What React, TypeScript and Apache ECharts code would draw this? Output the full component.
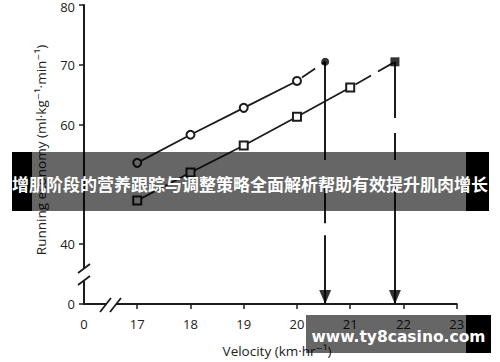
import React, { useEffect, useRef } from "react";
import * as echarts from "echarts";

// ---- data ----
const circleVelocity = [17, 18, 19, 20];
const circleEconomy = [53.6, 58.3, 62.8, 67.3];
const circlePeak = [20.53, 70.5];

const squareVelocity = [17, 18, 19, 20, 21];
const squareEconomy = [47.3, 52.0, 56.5, 61.3, 66.2];
const squarePeak = [21.84, 70.5];

// visible pieces of the two broken vertical arrows (economy values)
const circleDropSegments = [
  [70.5, 54.1],
  [49.6, 43.5],
  [41.5, 30],
];
const squareDropSegments = [
  [70.5, 61.1],
  [58.6, 54.1],
  [49.6, 30],
];

// axis ticks (the lowest value of each axis stands for the broken "0")
const yTickValues = [30, 40, 60, 70, 80];
const xTickValues = [17, 18, 19, 20, 21, 22, 23];
const xLabelValues = [16, 17, 18, 19, 20, 21, 22, 23];
const Y_BREAK = 30;
const Y_TOP = 80;
const X_BREAK = 16;

const bannerText = "增肌阶段的营养跟踪与调整策略全面解析帮助有效提升肌肉增长";
const watermarkText = "www.ty8casino.com";

const INK = "#1c1c1c";
const FONT = '"Open Sans", "DejaVu Sans", sans-serif';

export default function App() {
  const ref = useRef<HTMLDivElement>(null);

  useEffect(() => {
    if (!ref.current) return;
    const chart = echarts.init(ref.current, undefined, { renderer: "svg" });

    const segs = (x: number, list: number[][]) =>
      list.map((s) => ({ coords: [[x, s[0]], [x, s[1]]] }));

    const option: any = {
      animation: false,
      backgroundColor: "#ffffff",
      grid: { left: 84, right: 43.3, top: 5, bottom: 58, containLabel: false },
      xAxis: {
        type: "value",
        min: X_BREAK,
        max: 23,
        interval: 1,
        splitLine: { show: false },
        axisLine: { show: true, lineStyle: { color: INK, width: 2 } },
        axisTick: {
          show: true,
          length: 5,
          customValues: xTickValues,
          lineStyle: { color: INK, width: 1.5 },
        },
        axisLabel: {
          customValues: xLabelValues,
          margin: 13,
          fontSize: 13,
          color: "#222",
          fontFamily: FONT,
          formatter: (v: number) => (v === X_BREAK ? "0" : String(v)),
        },
      },
      yAxis: {
        type: "value",
        min: Y_BREAK,
        max: Y_TOP,
        interval: 10,
        splitLine: { show: false },
        axisLine: { show: true, lineStyle: { color: INK, width: 2 } },
        axisTick: {
          show: true,
          length: 5,
          customValues: yTickValues,
          lineStyle: { color: INK, width: 1.5 },
        },
        axisLabel: {
          customValues: yTickValues,
          margin: 9,
          fontSize: 13,
          color: "#222",
          fontFamily: FONT,
          formatter: (v: number) =>
            v === Y_BREAK ? "0" : v === Y_TOP ? `{t|${v}}` : String(v),
          rich: {
            t: { fontSize: 13, color: "#222", fontFamily: FONT, padding: [4, 0, 0, 0] },
          },
        },
      },
      series: [
        {
          type: "line",
          data: circleVelocity.map((v, i) => [v, circleEconomy[i]]),
          symbol: "emptyCircle",
          symbolSize: 8,
          lineStyle: { color: INK, width: 1.8 },
          itemStyle: { color: INK, borderWidth: 1.5 },
          z: 3,
        },
        {
          type: "line",
          data: [[circleVelocity[3], circleEconomy[3]], circlePeak],
          symbol: "none",
          lineStyle: { color: INK, width: 1.8, type: [16, 8], dashOffset: -6 },
          z: 2,
        },
        {
          type: "line",
          data: squareVelocity.map((v, i) => [v, squareEconomy[i]]),
          symbol: "emptyRect",
          symbolSize: 8,
          lineStyle: { color: INK, width: 1.8 },
          itemStyle: { color: INK, borderWidth: 1.5 },
          z: 3,
        },
        {
          type: "line",
          data: [[squareVelocity[4], squareEconomy[4]], squarePeak],
          symbol: "none",
          lineStyle: { color: INK, width: 1.8, type: [18, 8], dashOffset: -6 },
          z: 2,
        },
        {
          type: "lines",
          coordinateSystem: "cartesian2d",
          data: [
            ...segs(circlePeak[0], circleDropSegments),
            ...segs(squarePeak[0], squareDropSegments),
          ],
          lineStyle: { color: INK, width: 2, opacity: 1 },
          z: 2,
        },
        {
          type: "scatter",
          data: [circlePeak],
          symbol: "circle",
          symbolSize: 8,
          itemStyle: { color: "#000" },
          z: 4,
        },
        {
          type: "scatter",
          data: [squarePeak],
          symbol: "rect",
          symbolSize: 9,
          itemStyle: { color: "#000" },
          z: 4,
        },
        {
          type: "scatter",
          data: [
            [circlePeak[0], Y_BREAK],
            [squarePeak[0], Y_BREAK],
          ],
          symbol: "path://M0,0L12,0L6,14Z",
          symbolSize: [12, 14],
          symbolOffset: [0, -7],
          itemStyle: { color: "#000" },
          clip: false,
          z: 4,
        },
      ],
      graphic: [
        // axis break on the y axis
        { type: "rect", shape: { x: 80, y: 268, width: 8, height: 12 }, style: { fill: "#fff" }, z: 50 },
        { type: "line", shape: { x1: 78, y1: 273, x2: 90, y2: 264 }, style: { stroke: INK, lineWidth: 1.8 }, z: 51 },
        { type: "line", shape: { x1: 78, y1: 285, x2: 90, y2: 276 }, style: { stroke: INK, lineWidth: 1.8 }, z: 51 },
        // axis break on the x axis
        { type: "rect", shape: { x: 106, y: 300, width: 10, height: 8 }, style: { fill: "#fff" }, z: 50 },
        { type: "line", shape: { x1: 100, y1: 312, x2: 111, y2: 298 }, style: { stroke: INK, lineWidth: 1.8 }, z: 51 },
        { type: "line", shape: { x1: 110, y1: 312, x2: 121, y2: 298 }, style: { stroke: INK, lineWidth: 1.8 }, z: 51 },
        // axis titles
        {
          type: "text",
          x: 41,
          y: 150,
          rotation: Math.PI / 2,
          style: {
            text: "Running economy (ml·kg⁻¹·min⁻¹)",
            font: `13.5px ${FONT}`,
            fill: "#222",
            textAlign: "center",
            textVerticalAlign: "middle",
          },
          z: 10,
        },
        {
          type: "text",
          x: 277,
          y: 351,
          style: {
            text: "Velocity (km·hr⁻¹)",
            font: `13.5px ${FONT}`,
            fill: "#222",
            textAlign: "center",
            textVerticalAlign: "middle",
          },
          z: 10,
        },
        // overlay banner
        { type: "rect", shape: { x: 12, y: 152, width: 20, height: 59 }, style: { fill: "#000" }, z: 100 },
        { type: "rect", shape: { x: 32, y: 152, width: 434, height: 59 }, style: { fill: "rgba(0,0,0,0.6)" }, z: 100 },
        { type: "rect", shape: { x: 466, y: 152, width: 23, height: 59 }, style: { fill: "#000" }, z: 100 },
        {
          type: "text",
          x: 250,
          y: 183,
          style: {
            text: bannerText,
            font: 'bold 17px "Noto Sans CJK SC", sans-serif',
            fill: "#fff",
            textAlign: "center",
            textVerticalAlign: "middle",
          },
          z: 101,
        },
        // watermark
        { type: "rect", shape: { x: 306, y: 315, width: 160, height: 38 }, style: { fill: "rgba(0,0,0,0.6)" }, z: 100 },
        { type: "rect", shape: { x: 466, y: 315, width: 25, height: 38 }, style: { fill: "#000" }, z: 100 },
        {
          type: "text",
          x: 398.5,
          y: 337,
          style: {
            text: watermarkText,
            font: 'bold 15.5px "DejaVu Sans", sans-serif',
            fill: "#fff",
            textAlign: "center",
            textVerticalAlign: "middle",
          },
          z: 101,
        },
      ],
    };

    chart.setOption(option);
    return () => chart.dispose();
  }, []);

  return (
    <div
      ref={ref}
      style={{ position: "fixed", left: 0, top: 0, width: 500, height: 362, background: "#fff" }}
    />
  );
}
